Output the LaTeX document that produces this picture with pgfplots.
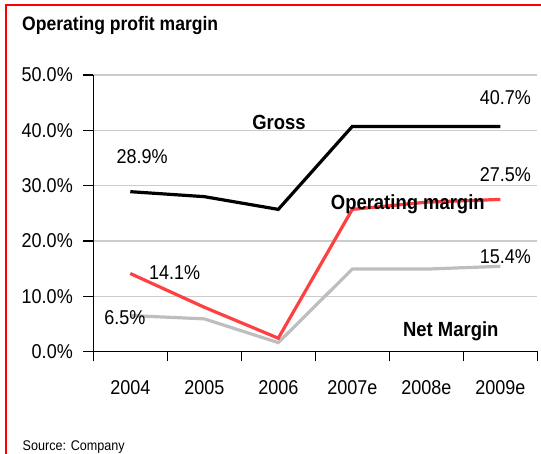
\documentclass[border=0pt]{standalone}
\usepackage{fontspec}
\setmainfont{Liberation Sans}[FakeStretch=0.9]
\usepackage{pgfplots}
\pgfplotsset{compat=1.18}
\definecolor{opred}{HTML}{FF4040}
\definecolor{netgray}{HTML}{BEBEBE}
\definecolor{gridgray}{HTML}{CCCCCC}
\begin{document}
\begin{tikzpicture}[x=1pt,y=1pt]
\useasboundingbox (0,0) rectangle (541,454);
\draw[red, line width=2pt] (5.5,-2) -- (5.5,449) -- (543,449);
\node[anchor=base west, inner sep=0pt, font=\fontsize{19.5}{22}\selectfont\bfseries] at (22,423) {Operating profit margin};
\node[anchor=base west, inner sep=0pt, font=\fontsize{14}{16}\selectfont] at (22.5,3.3) {Source: Company};
\begin{axis}[
  at={(93.3pt,102.5pt)}, anchor=south west,
  scale only axis, width=444pt, height=276.5pt,
  xmin=-0.5, xmax=5.5, ymin=0, ymax=50,
  axis x line*=bottom, axis y line*=left,
  axis line style={-, line width=1.3pt, black},
  tick align=outside, major tick length=10pt,
  tick style={line width=1.3pt, black},
  xtick={-0.5,0.5,1.5,2.5,3.5,4.5,5.5},
  x tick label as interval,
  xticklabels={2004,2005,2006,2007e,2008e,2009e},
  ytick={0,10,20,30,40,50},
  yticklabels={0.0\%,10.0\%,20.0\%,30.0\%,40.0\%,50.0\%},
  ymajorgrids, grid style={gridgray, line width=1.3pt},
  tick label style={font=\fontsize{20}{24}\selectfont},
  xticklabel style={yshift=-16pt},
  yticklabel style={xshift=-7pt},
  clip=false,
]
\addplot[black, line width=3.2pt] coordinates {(0,28.9) (1,28.0) (2,25.7) (3,40.7) (4,40.7) (5,40.7)};
\addplot[netgray, line width=3.2pt] coordinates {(0,6.5) (1,5.9) (2,1.6) (3,14.9) (4,14.9) (5,15.4)};
\addplot[opred, line width=3.2pt] coordinates {(0,14.1) (1,8.0) (2,2.4) (3,25.7) (4,27.0) (5,27.5)};
\begin{scope}[every node/.style={anchor=base, inner sep=0pt, font=\fontsize{20}{24}\selectfont}]
\node at (axis cs:0.161,34.0) {28.9\%};
\node at (axis cs:5.068,44.6) {40.7\%};
\node at (axis cs:5.068,30.8) {27.5\%};
\node at (axis cs:5.068,16.0) {15.4\%};
\node at (axis cs:0.6,13.06) {14.1\%};
\node at (axis cs:-0.072,4.97) {6.5\%};
\end{scope}
\begin{scope}[every node/.style={anchor=base, inner sep=0pt, font=\fontsize{20.5}{24}\selectfont\bfseries}]
\node at (axis cs:2.009,40.1) {Gross};
\node at (axis cs:3.75,25.6) {Operating margin};
\node at (axis cs:4.331,2.68) {Net Margin};
\end{scope}
\end{axis}
\end{tikzpicture}
\end{document}
